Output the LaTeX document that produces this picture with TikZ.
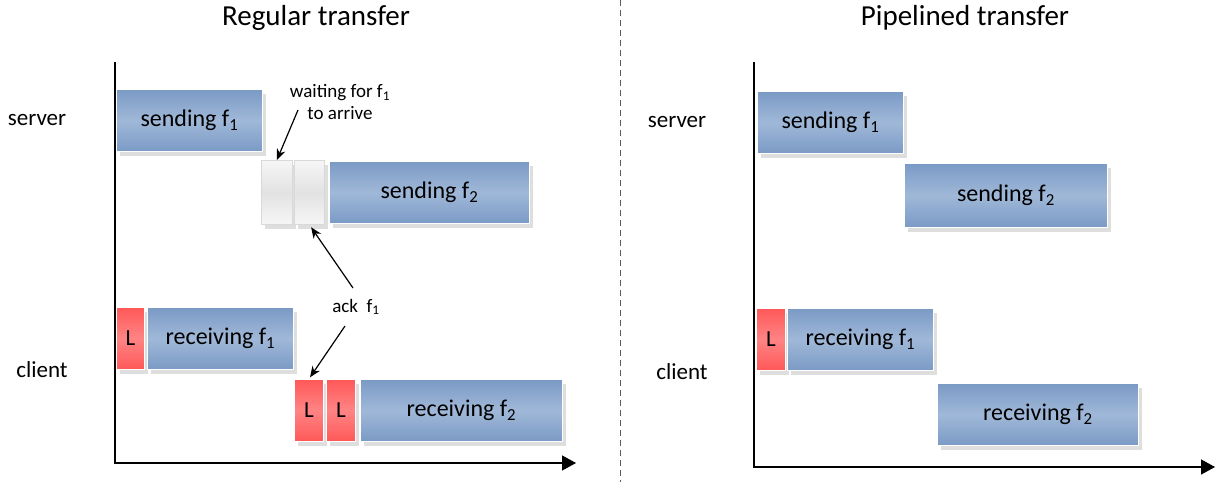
\documentclass[tikz,border=0pt]{standalone}
\usepackage{fontspec}
\setmainfont{Carlito}
\usetikzlibrary{arrows.meta,shadows}
\definecolor{blueE}{RGB}{122,154,197}
\definecolor{blueM}{RGB}{160,184,216}
\definecolor{redE}{RGB}{255,88,88}
\definecolor{redM}{RGB}{255,132,132}
\definecolor{whiteE}{RGB}{246,246,246}
\definecolor{whiteM}{RGB}{226,226,226}
\tikzset{
  base/.style={rectangle, inner sep=0pt, anchor=north west, draw=white, line width=0.8pt,
    general shadow={fill=black!13, shadow xshift=4pt, shadow yshift=-5pt}},
  bluebox/.style={base, top color=blueE, bottom color=blueE, middle color=blueM,
    font=\fontsize{24}{28}\selectfont},
  redbox/.style={base, top color=redE, bottom color=redE, middle color=redM,
    font=\fontsize{23}{28}\selectfont},
  waitbox/.style={base, draw=black!15, top color=whiteE, bottom color=whiteE, middle color=whiteM},
  axis/.style={line width=1.4pt, -{Triangle[length=14pt,width=15pt]}},
  ann/.style={line width=1.2pt, -{Stealth[length=11pt,width=9pt]}},
  lbl/.style={font=\fontsize{23}{28}\selectfont},
  ttl/.style={font=\fontsize{29}{34}\selectfont},
  note/.style={font=\fontsize{19}{22}\selectfont, align=center}
}
\begin{document}
\begin{tikzpicture}[x=1pt,y=-1pt]
\useasboundingbox (0,0) rectangle (1225,482);
% titles and divider
\node[ttl] (t1) at (316,18) {Regular transfer};
\node[ttl] (t2) at (965,18) {Pipelined transfer};
\coordinate (d1) at (620,0);
\coordinate (d2) at (620,482);
\draw[black!65, line width=0.8pt, dash pattern=on 6pt off 4pt] (d1) -- (d2);
% labels
\node[lbl] (srvL) at (37,120) {server};
\node[lbl] (cliL) at (42,370) {client};
\node[lbl] (srvR) at (677,122) {server};
\node[lbl] (cliR) at (682,372) {client};
% left boxes
\node[bluebox, minimum width=146pt, minimum height=62pt] (sf1) at (116,89) {sending f\textsubscript{1}};
\node[waitbox, minimum width=31pt, minimum height=64pt] (w1) at (261,160) {};
\node[waitbox, minimum width=30pt, minimum height=64pt] (w2) at (294,160) {};
\node[bluebox, minimum width=200pt, minimum height=62pt] (sf2) at (329,161) {sending f\textsubscript{2}};
\node[redbox, minimum width=28pt, minimum height=62pt] (l1) at (116,307) {L};
\node[bluebox, minimum width=146pt, minimum height=62pt] (rf1) at (147,307) {receiving f\textsubscript{1}};
\node[redbox, minimum width=29pt, minimum height=62pt] (l2) at (294,379) {L};
\node[redbox, minimum width=29pt, minimum height=62pt] (l3) at (326,379) {L};
\node[bluebox, minimum width=202pt, minimum height=62pt] (rf2) at (360,379) {receiving f\textsubscript{2}};
% right boxes
\node[bluebox, minimum width=146pt, minimum height=62pt] (psf1) at (757,91) {sending f\textsubscript{1}};
\node[bluebox, minimum width=203pt, minimum height=64pt] (psf2) at (904,163) {sending f\textsubscript{2}};
\node[redbox, minimum width=29pt, minimum height=62pt] (pl1) at (756,308) {L};
\node[bluebox, minimum width=146pt, minimum height=62pt] (prf1) at (787,308) {receiving f\textsubscript{1}};
\node[bluebox, minimum width=201pt, minimum height=62pt] (prf2) at (937,383) {receiving f\textsubscript{2}};
% axes
\coordinate (ly) at (115,62);
\coordinate (lo) at (115,463);
\coordinate (lx) at (576,463);
\draw[axis] (ly) -- (lo) -- (lx);
\coordinate (ry) at (754,62);
\coordinate (ro) at (754,467);
\coordinate (rx) at (1215,467);
\draw[axis] (ry) -- (ro) -- (rx);
% annotations
\node[note] (wait) at (340,102) {waiting for f\textsubscript{1}\\to arrive};
\coordinate (wa) at (298,110);
\draw[ann] (wa) -- (w1.north);
\node[note] (ack) at (356,307) {ack\ \ f\textsubscript{1}};
\coordinate (a1) at (353,288);
\coordinate (a2) at (345,326);
\draw[ann, shorten >=3pt] (a1) -- (w2.south);
\draw[ann, shorten >=2pt] (a2) -- (l2.north);
\end{tikzpicture}
\end{document}
